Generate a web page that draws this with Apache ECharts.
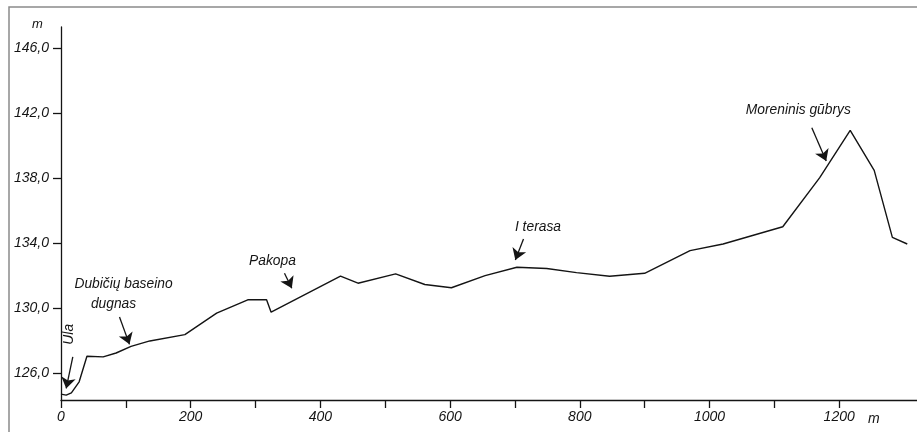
<!DOCTYPE html>
<html>
<head>
<meta charset="utf-8">
<script src="https://cdn.jsdelivr.net/npm/echarts@6/dist/echarts.min.js"></script>
<style>
  html, body { margin: 0; padding: 0; background: #fff; }
  #chart { width: 917px; height: 432px; }
</style>
</head>
<body>
<div id="chart"></div>
<script>
// Profile: distance along the section (m) and surface height (m)
const distance = [0, 8, 16, 28, 40, 65, 85, 108, 137, 191, 240, 288, 317, 324, 431, 458, 516, 561, 602, 654, 703, 749, 795, 846, 900, 970, 1021, 1113, 1170, 1217, 1254, 1282, 1305];
const height = [124.73, 124.67, 124.81, 125.49, 127.06, 127.02, 127.26, 127.67, 128.0, 128.39, 129.71, 130.53, 130.53, 129.77, 131.98, 131.55, 132.12, 131.47, 131.27, 132.02, 132.53, 132.45, 132.2, 131.98, 132.16, 133.55, 133.96, 135.02, 138.04, 140.94, 138.49, 134.37, 133.96];

// Axis ticks and labels
const xTicks = [0, 100, 200, 300, 400, 500, 600, 700, 800, 900, 1000, 1100, 1200];
const xTickLabels = [0, 200, 400, 600, 800, 1000, 1200];
const yTickLabels = [126, 130, 134, 138, 142, 146];

// Landform labels: text, anchor [distance, height], rotation
const labelTexts = ['Ūla', 'Dubičių baseino', 'dugnas', 'Pakopa', 'I terasa', 'Moreninis gūbrys'];
const labelAnchors = [[12, 128.41], [96.4, 131.51], [81, 130.29], [326, 132.9], [735.5, 134.98], [1137, 142.19]];
const labelRotations = [90, 0, 0, 0, 0, 0];

// Pointer arrows: [from, to] in [distance, height]
const arrowFrom = [[18.2, 127.02], [90.2, 129.47], [344.6, 132.16], [713.2, 134.27], [1157.8, 141.1]];
const arrowTo = [[8.0, 125.08], [105.6, 127.79], [355.9, 131.24], [700.6, 132.98], [1180, 139.06]];

const FONT = '"Liberation Sans", Arial, Helvetica, sans-serif';
const INK = '#141414';

const chart = echarts.init(document.getElementById('chart'), null, { renderer: 'canvas' });

const points = distance.map((d, i) => [d, height[i]]);

const markPoints = labelTexts.map((t, i) => ({
  name: t,
  coord: labelAnchors[i],
  label: { rotate: labelRotations[i] }
}));

const markLines = arrowFrom.map((f, i) => [
  { coord: f },
  { coord: arrowTo[i] }
]);

chart.setOption({
  animation: false,
  backgroundColor: '#fff',
  grid: { left: 61, right: 0, top: 27, bottom: 32, containLabel: false },
  xAxis: {
    type: 'value',
    min: 0,
    max: 1320,
    splitLine: { show: false },
    axisLine: { show: true, lineStyle: { color: INK, width: 1.3 } },
    axisTick: { show: true, length: 8, customValues: xTicks, lineStyle: { color: INK, width: 1.3 } },
    axisLabel: {
      customValues: xTickLabels,
      margin: 10,
      color: INK,
      fontFamily: FONT,
      fontStyle: 'italic',
      fontSize: 14,
      formatter: v => String(v)
    }
  },
  yAxis: {
    type: 'value',
    min: 124.37,
    max: 147.3,
    splitLine: { show: false },
    axisLine: { show: true, lineStyle: { color: INK, width: 1.3 } },
    axisTick: { show: true, length: 8, customValues: yTickLabels, lineStyle: { color: INK, width: 1.3 } },
    axisLabel: {
      customValues: yTickLabels,
      margin: 12,
      color: INK,
      fontFamily: FONT,
      fontStyle: 'italic',
      fontSize: 14,
      formatter: v => v.toFixed(1).replace('.', ',')
    }
  },
  series: [{
    type: 'line',
    data: points,
    symbol: 'none',
    silent: true,
    lineStyle: { color: INK, width: 1.4 },
    markPoint: {
      symbol: 'circle',
      symbolSize: 1,
      silent: true,
      itemStyle: { color: 'rgba(0,0,0,0)' },
      label: {
        show: true,
        position: 'inside',
        formatter: p => p.name,
        color: INK,
        fontFamily: FONT,
        fontStyle: 'italic',
        fontSize: 13.8
      },
      data: markPoints
    },
    markLine: {
      silent: true,
      symbol: ['none', 'arrow'],
      symbolSize: 11,
      label: { show: false },
      lineStyle: { color: INK, width: 1.3, type: 'solid' },
      emphasis: { disabled: true },
      data: markLines
    }
  }],
  graphic: [
    {
      type: 'rect',
      silent: true,
      shape: { x: 9, y: 7, width: 960, height: 480 },
      style: { fill: 'none', stroke: '#8a8a8a', lineWidth: 1.5 }
    },
    {
      type: 'text',
      silent: true,
      left: 32, top: 18,
      style: { text: 'm', fill: INK, font: 'italic 13px ' + FONT }
    },
    {
      type: 'text',
      silent: true,
      left: 868, top: 412,
      style: { text: 'm', fill: INK, font: 'italic 14px ' + FONT }
    }
  ]
});
</script>
</body>
</html>
